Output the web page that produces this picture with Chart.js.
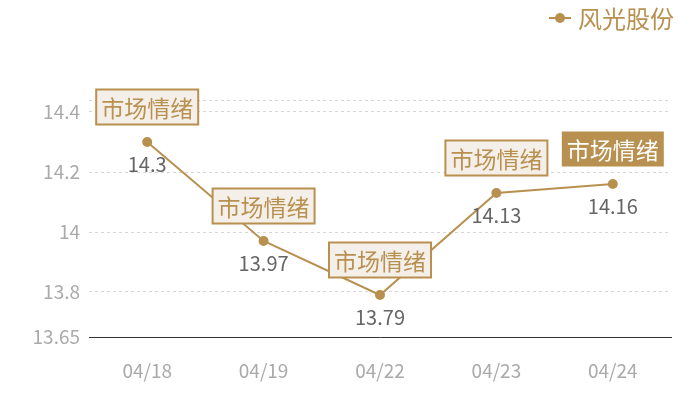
<!DOCTYPE html>
<html>
<head>
<meta charset="utf-8">
<script src="https://cdn.jsdelivr.net/npm/chart.js@4/dist/chart.umd.min.js"></script>
<style>
  html, body { margin: 0; padding: 0; background: #fff; }
  #wrap { width: 700px; height: 400px; }
</style>
</head>
<body>
<div id="wrap"><canvas id="lineChart" width="700" height="400"></canvas></div>
<script>
const dates = ["04/18", "04/19", "04/22", "04/23", "04/24"];
const prices = [14.3, 13.97, 13.79, 14.13, 14.16];
const tagTexts = ["市场情绪", "市场情绪", "市场情绪", "市场情绪", "市场情绪"];
const highlightIndex = 4;
const yTicks = [13.65, 13.8, 14, 14.2, 14.4, 14.44];
const seriesName = "风光股份";

const gold = "#b8904f";
const cjk = "'Noto Sans CJK SC', 'Noto Sans', sans-serif";

const tagPlugin = {
  id: "tags",
  afterDatasetsDraw(chart) {
    const ctx = chart.ctx;
    const meta = chart.getDatasetMeta(0);
    ctx.save();
    meta.data.forEach((pt, i) => {
      // value under point
      ctx.font = "20px " + cjk;
      ctx.fillStyle = "#666";
      ctx.textAlign = "center";
      ctx.textBaseline = "middle";
      ctx.fillText(String(prices[i]), pt.x, pt.y + 22);

      // tag box above point
      ctx.font = "23px " + cjk;
      const w = ctx.measureText(tagTexts[i]).width + 10;
      const h = 35;
      const cy = pt.y - 35;
      const left = pt.x - w / 2;
      if (i === highlightIndex) {
        ctx.fillStyle = gold;
        ctx.fillRect(left, cy - h / 2, w, h);
        ctx.fillStyle = "#fff";
      } else {
        ctx.fillStyle = "#f4efe9";
        ctx.fillRect(left, cy - h / 2, w, h);
        ctx.strokeStyle = gold;
        ctx.lineWidth = 2;
        ctx.strokeRect(left, cy - h / 2, w, h);
        ctx.fillStyle = gold;
      }
      ctx.fillText(tagTexts[i], pt.x, cy + 1);
    });
    ctx.restore();
  },
  afterDraw(chart) {
    const ctx = chart.ctx;
    ctx.save();
    ctx.strokeStyle = gold;
    ctx.lineWidth = 2;
    ctx.beginPath();
    ctx.moveTo(549, 18);
    ctx.lineTo(571, 18);
    ctx.stroke();
    ctx.fillStyle = gold;
    ctx.beginPath();
    ctx.arc(560, 18, 5, 0, Math.PI * 2);
    ctx.fill();
    ctx.font = "24px " + cjk;
    ctx.textAlign = "left";
    ctx.textBaseline = "middle";
    ctx.fillText(seriesName, 578, 19);
    ctx.restore();
  },
};

new Chart(document.getElementById("lineChart"), {
  type: "line",
  data: {
    labels: dates,
    datasets: [
      {
        label: seriesName,
        data: prices,
        borderColor: gold,
        backgroundColor: gold,
        borderWidth: 2,
        pointRadius: 4,
        pointHoverRadius: 4,
        tension: 0,
      },
    ],
  },
  options: {
    responsive: false,
    animation: false,
    devicePixelRatio: 1,
    layout: { padding: { top: 100, right: 29, left: 0, bottom: 0 } },
    plugins: {
      legend: { display: false },
      tooltip: { enabled: false },
    },
    scales: {
      x: {
        offset: true,
        grid: { display: false, drawTicks: false },
        border: { display: true, color: "#333", width: 1 },
        ticks: {
          color: "#aaa",
          font: { size: 19, family: cjk },
          padding: 22,
        },
        afterFit(scale) {
          scale.height = 63;
        },
      },
      y: {
        min: 13.65,
        max: 14.44,
        afterBuildTicks(scale) {
          scale.ticks = yTicks.map((v) => ({ value: v }));
        },
        grid: {
          drawTicks: false,
          color: (c) => (c.tick && c.tick.value === 13.65 ? "rgba(0,0,0,0)" : "#d6d6d6"),
        },
        border: { display: false, dash: [3, 3] },
        ticks: {
          color: "#aaa",
          font: { size: 19, family: cjk },
          padding: 9,
          callback: (v) => (v === 14.44 ? "" : String(v)),
        },
        afterFit(scale) {
          scale.width = 89;
        },
      },
    },
  },
  plugins: [tagPlugin],
});
</script>
</body>
</html>
